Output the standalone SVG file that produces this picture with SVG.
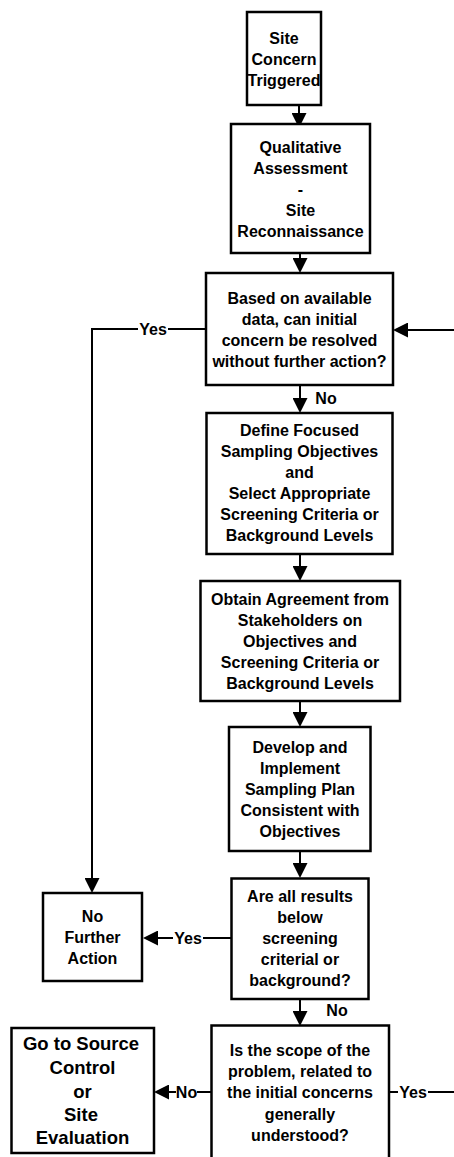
<svg xmlns="http://www.w3.org/2000/svg" width="454" height="1157" viewBox="0 0 454 1157">
  <style>
    .box { fill: #ffffff; stroke: #000000; stroke-width: 2.5; }
    .link { fill: none; stroke: #000000; stroke-width: 2; }
    .t { font-family: "Liberation Sans", Arial, sans-serif; font-weight: bold; font-size: 16px; fill: #000000; text-anchor: middle; }
    .big { font-size: 18.5px; }
  </style>
  <defs>
    <marker id="head" viewBox="0 0 15 15" markerUnits="userSpaceOnUse" markerWidth="15" markerHeight="15" refX="5" refY="7.5" orient="auto">
      <path d="M0,0 L15,7.5 L0,15 z" fill="#000000"/>
    </marker>
  </defs>
  <rect width="454" height="1157" fill="#ffffff"/>

  <!-- connectors -->
  <g id="connectors">
    <path class="link" d="M299,105 V118" marker-end="url(#head)"/>
    <path class="link" d="M300,253 V263" marker-end="url(#head)"/>
    <path class="link" d="M300,385 V403" marker-end="url(#head)"/>
    <path class="link" d="M300,554 V571" marker-end="url(#head)"/>
    <path class="link" d="M300,701 V717" marker-end="url(#head)"/>
    <path class="link" d="M300,851 V868" marker-end="url(#head)"/>
    <path class="link" d="M300,999 V1016" marker-end="url(#head)"/>
    <!-- Yes from first decision down to No Further Action -->
    <path class="link" d="M206,329 H168"/>
    <path class="link" d="M138,329 H92 V883" marker-end="url(#head)"/>
    <!-- loop back into first decision -->
    <path class="link" d="M454,330 H403" marker-end="url(#head)"/>
    <!-- Yes from results check -->
    <path class="link" d="M231.5,938 H203"/>
    <path class="link" d="M173,938 H153" marker-end="url(#head)"/>
    <!-- No from scope question -->
    <path class="link" d="M211.5,1092 H197"/>
    <path class="link" d="M176,1092 H164" marker-end="url(#head)"/>
    <!-- Yes from scope question -->
    <path class="link" d="M389,1092 H398"/>
    <path class="link" d="M428,1092 H454"/>
    <text class="t" x="153" y="335">Yes</text>
    <text class="t" x="326" y="404">No</text>
    <text class="t" x="188" y="944">Yes</text>
    <text class="t" x="337" y="1016">No</text>
    <text class="t" x="186.5" y="1098">No</text>
    <text class="t" x="413" y="1098">Yes</text>
  </g>

  <g id="site-concern">
    <rect class="box" x="247" y="12" width="74" height="93"/>
    <text class="t" x="284" y="43.5">Site</text>
    <text class="t" x="284" y="64.5">Concern</text>
    <text class="t" x="284" y="85.5">Triggered</text>
  </g>

  <g id="qualitative-assessment">
    <rect class="box" x="231" y="124" width="139" height="129"/>
    <text class="t" x="300.5" y="152.5">Qualitative</text>
    <text class="t" x="300.5" y="173.5">Assessment</text>
    <text class="t" x="300.5" y="194.5">-</text>
    <text class="t" x="300.5" y="215.5">Site</text>
    <text class="t" x="300.5" y="236.5">Reconnaissance</text>
  </g>

  <g id="resolve-decision">
    <rect class="box" x="206" y="273" width="187" height="112"/>
    <text class="t" x="299.5" y="303.5">Based on available</text>
    <text class="t" x="299.5" y="324.5">data, can initial</text>
    <text class="t" x="299.5" y="345.5">concern be resolved</text>
    <text class="t" x="299.5" y="366.5">without further action?</text>
  </g>

  <g id="define-objectives">
    <rect class="box" x="206.5" y="413" width="186" height="141"/>
    <text class="t" x="299.5" y="436">Define Focused</text>
    <text class="t" x="299.5" y="457">Sampling Objectives</text>
    <text class="t" x="299.5" y="478">and</text>
    <text class="t" x="299.5" y="499">Select Appropriate</text>
    <text class="t" x="299.5" y="520">Screening Criteria or</text>
    <text class="t" x="299.5" y="541">Background Levels</text>
  </g>

  <g id="obtain-agreement">
    <rect class="box" x="200.5" y="581" width="199.5" height="120"/>
    <text class="t" x="300" y="605">Obtain Agreement from</text>
    <text class="t" x="300" y="626">Stakeholders on</text>
    <text class="t" x="300" y="647">Objectives and</text>
    <text class="t" x="300" y="668">Screening Criteria or</text>
    <text class="t" x="300" y="689">Background Levels</text>
  </g>

  <g id="sampling-plan">
    <rect class="box" x="229" y="727" width="141.5" height="124"/>
    <text class="t" x="300" y="753">Develop and</text>
    <text class="t" x="300" y="774">Implement</text>
    <text class="t" x="300" y="795">Sampling Plan</text>
    <text class="t" x="300" y="816">Consistent with</text>
    <text class="t" x="300" y="837">Objectives</text>
  </g>

  <g id="results-decision">
    <rect class="box" x="231.5" y="878.5" width="137" height="120.5"/>
    <text class="t" x="300" y="902">Are all results</text>
    <text class="t" x="300" y="923">below</text>
    <text class="t" x="300" y="944">screening</text>
    <text class="t" x="300" y="965">criterial or</text>
    <text class="t" x="300" y="986">background?</text>
  </g>

  <g id="no-further-action">
    <rect class="box" x="43" y="893" width="99" height="88"/>
    <text class="t" x="92.5" y="922">No</text>
    <text class="t" x="92.5" y="943">Further</text>
    <text class="t" x="92.5" y="964">Action</text>
  </g>

  <g id="scope-decision">
    <rect class="box" x="211.5" y="1025.5" width="177.5" height="133"/>
    <text class="t" x="300" y="1055.5">Is the scope of the</text>
    <text class="t" x="300" y="1076.5">problem, related to</text>
    <text class="t" x="300" y="1098">the initial concerns</text>
    <text class="t" x="300" y="1119.5">generally</text>
    <text class="t" x="300" y="1140.5">understood?</text>
  </g>

  <g id="source-control">
    <rect class="box" x="11.5" y="1028" width="142.5" height="125"/>
    <text class="t big" x="81" y="1050">Go to Source</text>
    <text class="t big" x="82.5" y="1073.5">Control</text>
    <text class="t big" x="82.5" y="1097.5">or</text>
    <text class="t big" x="81" y="1121">Site</text>
    <text class="t big" x="82.5" y="1143.5">Evaluation</text>
  </g>
</svg>
